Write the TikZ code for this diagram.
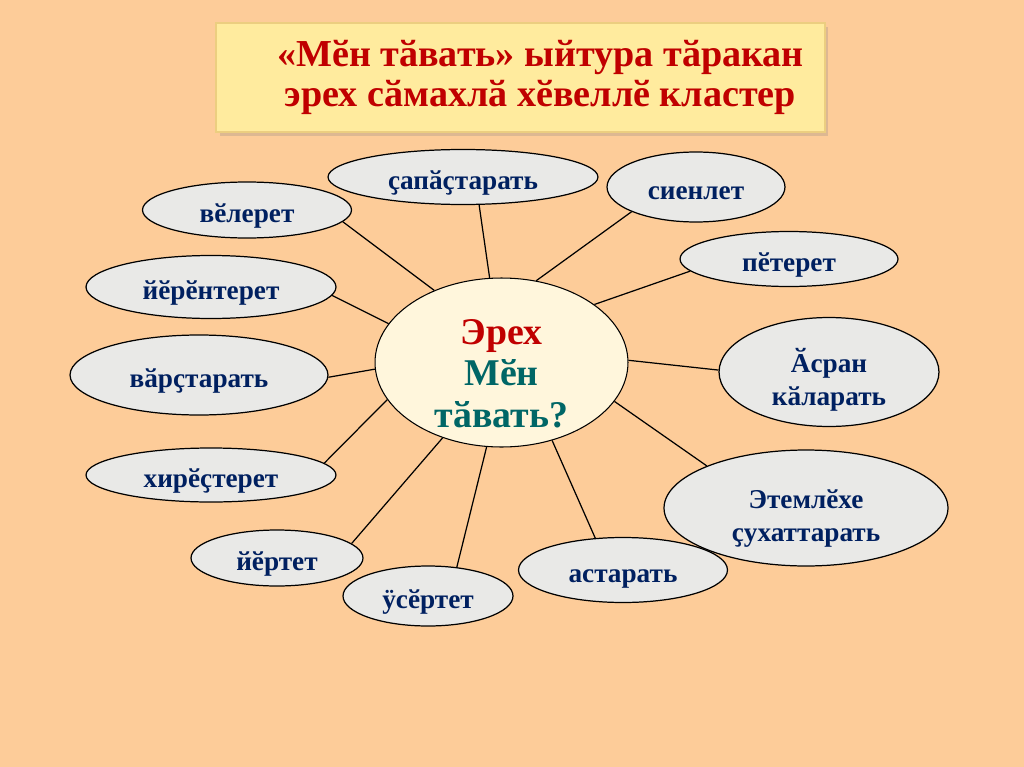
\documentclass[tikz,border=0pt]{standalone}
\usepackage{fontspec}
\setmainfont{Liberation Serif}
\usetikzlibrary{shapes.geometric,shadows}
\definecolor{peach}{RGB}{253,204,153}
\definecolor{cream}{RGB}{255,246,220}
\definecolor{stone}{RGB}{233,233,231}
\definecolor{banner}{RGB}{255,235,158}
\definecolor{bannerline}{RGB}{236,206,128}
\definecolor{darkred}{RGB}{192,0,0}
\definecolor{teal}{RGB}{0,102,102}
\definecolor{navy}{RGB}{0,32,96}
\tikzset{
  idea/.style={ellipse,draw=black,line width=0.7pt,fill=stone,inner sep=0pt,align=center,
    text=navy,font=\fontsize{15.5}{19}\selectfont\bfseries,text height=16pt,text depth=2pt},
  idea2/.style={idea,text height=40pt},
  hub/.style={ellipse,draw=black,line width=0.6pt,fill=cream,inner xsep=0pt,inner ysep=-8pt,
    align=center,text height=74pt,font=\fontsize{21.5}{23.5}\selectfont\bfseries},
  titlebox/.style={rectangle,draw=bannerline,line width=0.8pt,fill=banner,align=center,
    text=darkred,font=\fontsize{21.7}{22.8}\selectfont\bfseries,
    drop shadow={opacity=0.25,shadow xshift=2pt,shadow yshift=-2pt}},
  spoke/.style={line width=0.7pt}
}

\begin{document}
\begin{tikzpicture}[x=0.02cm,y=-0.02cm]
  % page: 1024 x 767 px, one unit = one px
  \useasboundingbox (0,0) rectangle (1024,767);
  \fill[peach] (0,0) rectangle (1024,767);

  % heading
  \node[titlebox,minimum width=12.18cm,minimum height=2.18cm] (title) at (520.5,77.5)
    {\hspace*{0.8cm}«Мӗн тӑвать» ыйтура тӑракан\\\hspace*{0.8cm}эрех сӑмахлӑ хӗвеллӗ кластер};

  % centre of the cluster
  \node[hub,minimum width=5.06cm,minimum height=3.38cm] (hub) at (501.5,362.5)
    {\textcolor{darkred}{Эрех}\\\textcolor{teal}{Мӗн}\\\textcolor{teal}{тӑвать?}};

  % the words round it
  \node[idea,minimum width=4.18cm,minimum height=1.12cm] (vel) at (247,210) {вӗлерет};
  \node[idea,minimum width=5.4cm,minimum height=1.1cm] (sap) at (463,177) {ҫапӑҫтарать};
  \node[idea,minimum width=3.56cm,minimum height=1.4cm] (sien) at (696,187) {сиенлет};
  \node[idea,minimum width=4.36cm,minimum height=1.1cm] (pet) at (789,259) {пӗтерет};
  \node[idea2,minimum width=4.4cm,minimum height=2.18cm] (asran) at (829,372) {Ӑсран\\кӑларать};
  \node[idea2,minimum width=5.68cm,minimum height=2.32cm] (etem) at (806,508) {Этемлӗхе\\ҫухаттарать};
  \node[idea,minimum width=4.18cm,minimum height=1.3cm] (astar) at (623,570) {астарать};
  \node[idea,minimum width=3.4cm,minimum height=1.2cm] (user) at (428,596) {ӱсӗртет};
  \node[idea,minimum width=3.44cm,minimum height=1.12cm] (yert) at (277,558) {йӗртет};
  \node[idea,minimum width=5cm,minimum height=1.08cm] (hir) at (211,475) {хирӗҫтерет};
  \node[idea,minimum width=5.16cm,minimum height=1.6cm] (var) at (199,375) {вӑрҫтарать};
  \node[idea,minimum width=5cm,minimum height=1.26cm] (yeren) at (211,287) {йӗрӗнтерет};

  % spokes
  \draw[spoke] (hub.133.3) -- (vel.-7.1);
  \draw[spoke] (hub.98.8) -- (sap.-60.5);
  \draw[spoke] (hub.67.8) -- (sien.201);
  \draw[spoke] (hub.32.4) -- (pet.187.3);
  \draw[spoke] (hub.1.6) -- (asran.179);
  \draw[spoke] (hub.-19.2) -- (etem.157.6);
  \draw[spoke] (hub.-57.1) -- (astar.131.5);
  \draw[spoke] (hub.-100.9) -- (user.45);
  \draw[spoke] (hub.-128.4) -- (yert.11.3);
  \draw[spoke] (hub.198.6) -- (hir.6.7);
  \draw[spoke] (hub.183.4) -- (var.-1);
  \draw[spoke] (hub.161) -- (yeren.-4.2);
\end{tikzpicture}
\end{document}
